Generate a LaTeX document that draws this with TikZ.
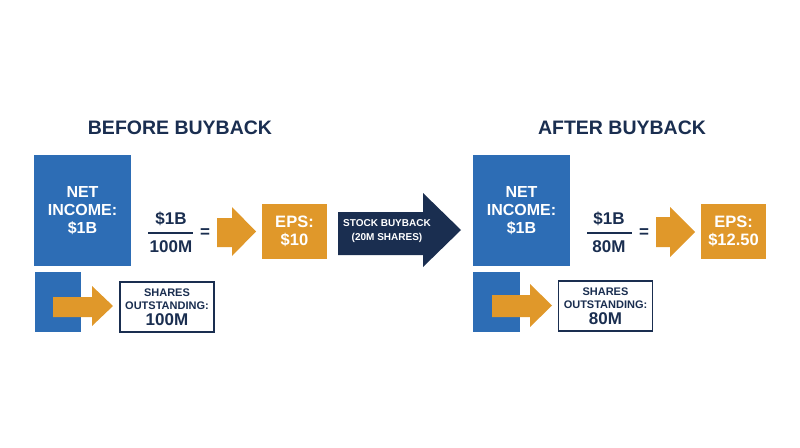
\documentclass[tikz,border=0pt]{standalone}
\usepackage{fontspec}
\setmainfont{Liberation Sans}
\definecolor{incomeblue}{HTML}{2D6DB5}
\definecolor{epsorange}{HTML}{E0982A}
\definecolor{navy}{HTML}{1A2E50}
\tikzset{
  titlelbl/.style={text=navy, font=\bfseries\fontsize{19.5}{22}\selectfont},
  incomebox/.style={fill=incomeblue, text=white, align=center, inner sep=0pt, minimum width=97, minimum height=111, font=\bfseries\fontsize{16}{18}\selectfont},
  epsbox/.style={fill=epsorange, text=white, align=center, inner sep=0pt, minimum width=65, minimum height=55, font=\bfseries\fontsize{16.5}{18}\selectfont},
  sharesbox/.style={draw=navy, line width=1.6pt, fill=white, text=navy, align=center, inner sep=0pt, minimum width=94, minimum height=50, font=\bfseries\fontsize{11}{13}\selectfont},
  fraclbl/.style={text=navy, inner sep=1pt, font=\bfseries\fontsize{17}{18}\selectfont},
  orangearrow/.style={fill=epsorange},
}
\begin{document}
\begin{tikzpicture}[x=1pt, y=-1pt]
\path (0,0) rectangle (800,447);
\node[titlelbl] (titleA) at (180,128) {BEFORE BUYBACK};
\node[titlelbl] (titleB) at (622,128) {AFTER BUYBACK};
\node[incomebox] (incomeA) at (82.5,210.5) {NET\\INCOME:\\\$1B};
\node[incomebox] (incomeB) at (521.5,210.5) {NET\\INCOME:\\\$1B};
\node[fraclbl] (numA) at (171,219) {\$1B};
\node[fraclbl] (denA) at (171,247) {100M};
\node[fraclbl] (eqA) at (205,233) {=};
\draw[navy, line width=1.3pt] (148,233) -- (193,233);
\node[fraclbl] (numB) at (609,219) {\$1B};
\node[fraclbl] (denB) at (609,247) {80M};
\node[fraclbl] (eqB) at (644,233) {=};
\draw[navy, line width=1.3pt] (587,233) -- (632,233);
\fill[orangearrow] (217,218) -- (232,218) -- (232,207) -- (256,231.5) -- (232,256) -- (232,247) -- (217,247) -- cycle;
\fill[orangearrow] (656,217) -- (670,217) -- (670,207) -- (695,232) -- (670,257) -- (670,247) -- (656,247) -- cycle;
\node[epsbox] (epsA) at (294.5,231.5) {EPS:\\\$10};
\node[epsbox] (epsB) at (733.5,231.5) {EPS:\\\$12.50};
\fill[incomeblue] (35,272) rectangle (81,332);
\fill[incomeblue] (473,272) rectangle (520,332);
\fill[orangearrow] (53,297) -- (92,297) -- (92,286) -- (113,306) -- (92,326) -- (92,317) -- (53,317) -- cycle;
\fill[orangearrow] (492,295) -- (530,295) -- (530,284) -- (552,305.5) -- (530,327) -- (530,317) -- (492,317) -- cycle;
\node[sharesbox] (sharesA) at (167,307) {SHARES\\OUTSTANDING:\\[3pt]{\fontsize{17}{17}\selectfont 100M}};
\node[sharesbox] (sharesB) at (605.5,306) {SHARES\\OUTSTANDING:\\[3pt]{\fontsize{17}{17}\selectfont 80M}};
\fill[navy] (338,212) -- (423,212) -- (423,193) -- (461,230) -- (423,267) -- (423,255) -- (338,255) -- cycle;
\node[text=white, align=center, font=\bfseries\fontsize{10}{14}\selectfont] (buyback) at (387,231) {STOCK BUYBACK\\(20M SHARES)};
\end{tikzpicture}
\end{document}
